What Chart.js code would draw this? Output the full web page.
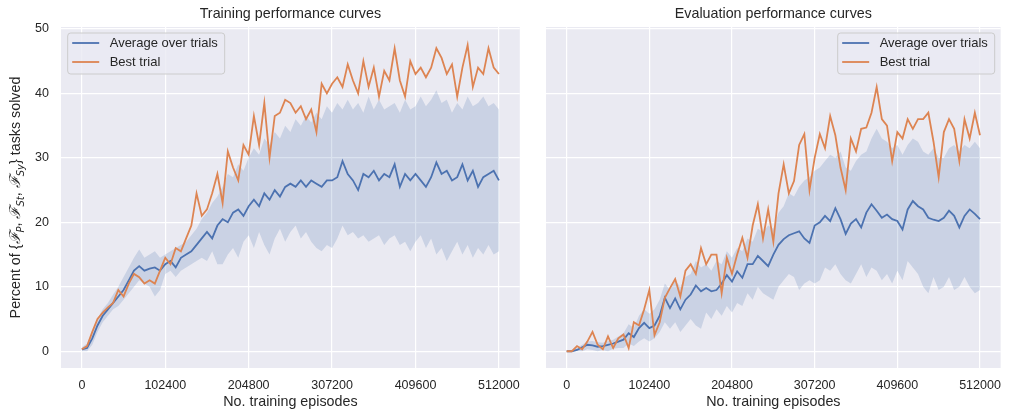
<!DOCTYPE html>
<html>
<head>
<meta charset="utf-8">
<script src="https://cdn.jsdelivr.net/npm/chart.js@4.4.1/dist/chart.umd.min.js"></script>
<style>
  body { margin: 0; background: #ffffff; width: 1011px; height: 411px; overflow: hidden; position: relative; }
  .panel { position: absolute; top: 0; }
  #train-wrap { left: 0; }
  #eval-wrap { left: 530px; }
</style>
</head>
<body>
<div class="panel" id="train-wrap"><canvas id="train-chart" width="530" height="411"></canvas></div>
<div class="panel" id="eval-wrap"><canvas id="eval-chart" width="481" height="411"></canvas></div>
<script>
// --- DATOS (una muestra cada 6400 episodios) ---
const STEP = 6400;
const xTicks = [0, 102400, 204800, 307200, 409600, 512000];
const yTicks = [0, 10, 20, 30, 40, 50];
const seriesNames = ['Average over trials', 'Best trial'];

const trainMean = [0.3,0.5,2,4,5.5,6.5,7.5,8.5,9.5,11,12.5,13.2,12.5,12.8,13,12.5,13.5,14,13,14.5,15,15.5,
  16.5,17.5,18.5,17.5,19.5,20.5,20,21.5,22,21,22.5,23.5,22.5,24.5,23.5,25,24,25.5,26,25.5,26.5,25.5,26.5,26,25.5,26.5,
  26.5,27,29.5,27.5,26.5,25,27.5,27,28,26.5,27.5,27,29,25.5,27.5,26.5,27.5,26.5,25.5,27,29.3,27.5,28,26.5,27,29,26.5,28,25.5,27,27.5,28,26.5];
const trainBest = [0.3,0.8,3,5,6,6.8,7.5,9.5,8.5,10.5,12,11.5,10.5,11,10.5,12.5,14.5,13.5,16,15.5,17.5,19.5,
  24.5,21,22,24.5,27.5,23,31,28.5,26.5,32,30.5,36.5,32,38.5,30,36.5,37,39,38.5,37,38,36,37.5,34,41.5,40,
  41.5,42.5,41,44.5,42,40,45,41,44,39.5,43.5,42,47,42,39.5,45,43,44,42.5,44,47,45.5,43,44.5,39.5,44,47.5,41,44,43,47,44,43];
const trainLow = [0,0,1,3,4.5,5.5,6.5,7,8,9,10,11,10.5,10,8.5,9.5,12,12.5,11.5,12.5,13,13.5,
  14,14.5,14,15.5,13.5,13.5,15,16,14.5,17,18,16,18.5,16.5,15,17.5,19,17,18.5,19.5,17.5,18.5,17,16,15.5,16.5,
  16,17.5,19.5,18,18.5,17.5,18,17,17.5,18,16.5,17.5,18,16.5,17,15.5,17,18,16,17.5,15,16,14,15.5,17,15,16.5,14.5,16,15,16.5,15,15.5];
const trainHigh = [0.6,1.2,3,5,6.5,7.5,8.8,10,11.5,13,14.5,15.8,14.5,15,15.5,14.5,15,15.5,16,16.5,17,18,
  19,20.5,21.5,23,24,25.5,27.5,27,29,28,30,31.5,30.5,33,32,34,33,35,34,36,35,36.5,35.5,37,36,38,
  37,38.5,37.5,39,37.5,38.5,37,39.5,37.5,39,37.5,38,38.5,37,39,37.5,38,39.5,38,39,40.5,38.5,39,37,38.5,37.5,39.5,38,38.5,39.5,38,38.5,37.5];

const evalMean = [0,0,0.2,0.6,1,0.9,0.7,0.8,1,1.2,1.5,1.8,2.8,2.2,3.6,4.4,3.6,4,5.5,8.3,6.7,8.2,6.5,8,8.8,10.2,9.3,9.8,9.3,
  9.5,10.5,11.8,10.8,12.4,11.4,13.5,13.5,14.8,14,13.2,15,16.5,17.4,18,18.3,18.6,17.5,16.8,19.5,20,21,20.2,22.2,20.5,18.2,
  19.8,20.5,19.2,21.5,22.8,21.8,20.7,21.2,20.5,20.2,18.9,22,23.3,22.5,22,20.7,20.4,20.2,20.7,21.8,21,19.2,21,22,21.3,20.5];
const evalBest = [0,0,0.8,0.3,1.5,3,1,0.3,2.3,0.5,2,2.6,0.5,4.5,4,6.5,9.5,2.5,4.5,8.3,9.8,11.2,8.5,12.5,13.5,12,16,13.5,15,
  15,9,14.5,12,15,17.6,14.5,19.5,22.8,17.5,22,17,24.5,29,24.5,26.4,32,33.7,25,30,33.7,31.5,36.5,33.5,28.5,25,
  33,31,34.5,34.7,37,41,36,35,29.5,34,33,36,34.5,36,36,37,32.5,27,34,36,34.5,29.5,36,33,37,33.5];
const evalLow = [0,0,0,0,0.3,0.2,0,0.2,0,0.4,0.5,0.5,1.2,0.8,1.5,2,1.5,2,3,4.5,3.5,4.5,3,4,5,4,3.5,6,5,
  6.5,5.5,7,6,7.5,7,9,8,10,9,8.5,8,10,11,12,11.5,9.5,10.5,11,10.5,11,13,12.5,13.5,12,11,
  10.5,12,13.5,11.5,13,12.5,11,12,10.5,12.5,11,14,13,12,10,9,11.5,9.5,10,11.5,9.5,10,11.5,10,9,9.5];
const evalHigh = [0,0.1,0.5,1,1.5,1.6,1.4,1.3,1.6,1.8,2.3,2.8,4.2,3.6,5.5,6.5,5.8,6.5,8,10.5,9.5,11,10,11.5,12,14,13,13.5,12.5,
  14,13.5,15.5,14.5,16,15.5,17.5,17,19,18.5,19.5,19,21.5,22.5,24.5,24,25.5,26.5,27,28,28.5,29.5,30.5,30,31,28.5,
  28,29.5,30.5,31,33,34.5,33,32.5,31.5,32,30.5,32,33,32.5,31,30.5,31.5,30,30,31.5,32,31,32,31.5,32.5,31.5];

// --- ESTILO (seaborn darkgrid) ---
const FONT = '"Liberation Sans", Arial, sans-serif';
const TEXT = '#262626';
const PLOT_BG = '#eaeaf2';
const BLUE = '#4c72b0';
const ORANGE = '#dd8452';
const BAND = 'rgba(76, 114, 176, 0.2)';

function toPoints(arr) {
  return arr.map((y, i) => ({ x: i * STEP, y }));
}

// dibuja la etiqueta del eje Y con subíndices
function drawYLabel(ctx, cx, cy) {
  const main = `14.3px ${FONT}`;
  const cal = 'italic 15px "DejaVu Serif", serif';
  const sub = 'italic 10px "DejaVu Sans", sans-serif';
  const parts = [
    ['Percent of ', main, 0], ['{', main, 0],
    ['\u2131', cal, 0], ['P', sub, 3.5], [', ', main, 0],
    ['\u2131', cal, 0], ['St', sub, 3.5], [', ', main, 0],
    ['\u2131', cal, 0], ['Sy', sub, 3.5], ['}', main, 0],
    [' tasks solved', main, 0]
  ];
  let total = 0;
  parts.forEach(p => { ctx.font = p[1]; total += ctx.measureText(p[0]).width; });
  ctx.save();
  ctx.translate(cx, cy);
  ctx.rotate(-Math.PI / 2);
  ctx.textAlign = 'left';
  ctx.textBaseline = 'alphabetic';
  let x = -total / 2;
  parts.forEach(p => {
    ctx.font = p[1];
    ctx.fillText(p[0], x, 5 + p[2]);
    x += ctx.measureText(p[0]).width;
  });
  ctx.restore();
}

function drawLegend(ctx, area, side) {
  const w = 157, h = 41, top = 33;
  const left = side === 'left' ? area.left + 6.7 : area.right - 6 - w;
  ctx.save();
  ctx.beginPath();
  ctx.roundRect(left, top, w, h, 3);
  ctx.fillStyle = 'rgba(234, 234, 242, 0.8)';
  ctx.fill();
  ctx.strokeStyle = '#cccccc';
  ctx.lineWidth = 1;
  ctx.stroke();
  [BLUE, ORANGE].forEach((c, k) => {
    const y = top + 10 + k * 19;
    ctx.beginPath();
    ctx.moveTo(left + 4.5, y);
    ctx.lineTo(left + 31.5, y);
    ctx.strokeStyle = c;
    ctx.lineWidth = 1.8;
    ctx.stroke();
    ctx.fillStyle = TEXT;
    ctx.font = `13px ${FONT}`;
    ctx.textAlign = 'left';
    ctx.textBaseline = 'middle';
    ctx.fillText(seriesNames[k], left + 42, y + 0.5);
  });
  ctx.restore();
}

const panelDecor = {
  id: 'panelDecor',
  beforeDraw(chart) {
    const { ctx, chartArea: a } = chart;
    ctx.save();
    ctx.fillStyle = PLOT_BG;
    ctx.fillRect(a.left, a.top, a.right - a.left, a.bottom - a.top);
    ctx.restore();
  },
  afterDraw(chart, args, opts) {
    const { ctx, chartArea: a } = chart;
    ctx.save();
    ctx.fillStyle = TEXT;
    ctx.font = `14.3px ${FONT}`;
    ctx.textAlign = 'center';
    ctx.textBaseline = 'middle';
    ctx.fillText(opts.title, (a.left + a.right) / 2, 14);
    ctx.restore();
    drawLegend(ctx, a, opts.legendSide);
    if (opts.yLabel) {
      ctx.save();
      ctx.fillStyle = TEXT;
      drawYLabel(ctx, 15, (a.top + a.bottom) / 2);
      ctx.restore();
    }
  }
};

function makePanel(canvasId, d) {
  const ctx = document.getElementById(canvasId).getContext('2d');
  return new Chart(ctx, {
    type: 'line',
    data: {
      datasets: [
        { label: seriesNames[0], data: toPoints(d.mean), borderColor: BLUE, borderWidth: 1.8, order: 1 },
        { label: seriesNames[1], data: toPoints(d.best), borderColor: ORANGE, borderWidth: 1.8, order: 0 },
        { label: 'upper', data: toPoints(d.high), borderWidth: 0, borderColor: 'transparent', backgroundColor: BAND, fill: '+1', order: 5 },
        { label: 'lower', data: toPoints(d.low), borderWidth: 0, borderColor: 'transparent', fill: false, order: 5 }
      ]
    },
    options: {
      responsive: false,
      animation: false,
      devicePixelRatio: 1,
      layout: { padding: { top: 27, right: d.rightPad, left: 0, bottom: 0 } },
      elements: { point: { radius: 0 }, line: { tension: 0 } },
      plugins: {
        legend: { display: false },
        tooltip: { enabled: false },
        panelDecor: { title: d.title, legendSide: d.legendSide, yLabel: d.yLabel }
      },
      scales: {
        x: {
          type: 'linear',
          min: -25600,
          max: 537600,
          afterBuildTicks: s => { s.ticks = xTicks.map(v => ({ value: v })); },
          afterFit: s => { s.height = 43; },
          grid: { color: '#ffffff', lineWidth: 1.2, drawTicks: false },
          border: { display: false },
          ticks: { color: TEXT, padding: 10, maxRotation: 0, autoSkip: false, font: { family: FONT, size: 12.5 }, callback: v => String(v) },
          title: { display: true, text: 'No. training episodes', color: TEXT, font: { family: FONT, size: 14.3 }, padding: { top: 0, bottom: 0 } }
        },
        y: {
          type: 'linear',
          min: -2.6,
          max: 50.3,
          afterBuildTicks: s => { s.ticks = yTicks.map(v => ({ value: v })); },
          afterFit: s => { s.width = d.yWidth; },
          grid: { color: '#ffffff', lineWidth: 1.2, drawTicks: false },
          border: { display: false },
          ticks: { display: d.yLabel, color: TEXT, padding: 12, font: { family: FONT, size: 12.5 }, callback: v => String(v) }
        }
      }
    },
    plugins: [panelDecor]
  });
}

makePanel('train-chart', {
  mean: trainMean, best: trainBest, low: trainLow, high: trainHigh,
  title: 'Training performance curves', legendSide: 'left', yLabel: true, yWidth: 61, rightPad: 5
});
makePanel('eval-chart', {
  mean: evalMean, best: evalBest, low: evalLow, high: evalHigh,
  title: 'Evaluation performance curves', legendSide: 'right', yLabel: false, yWidth: 16, rightPad: 3
});
</script>
</body>
</html>
